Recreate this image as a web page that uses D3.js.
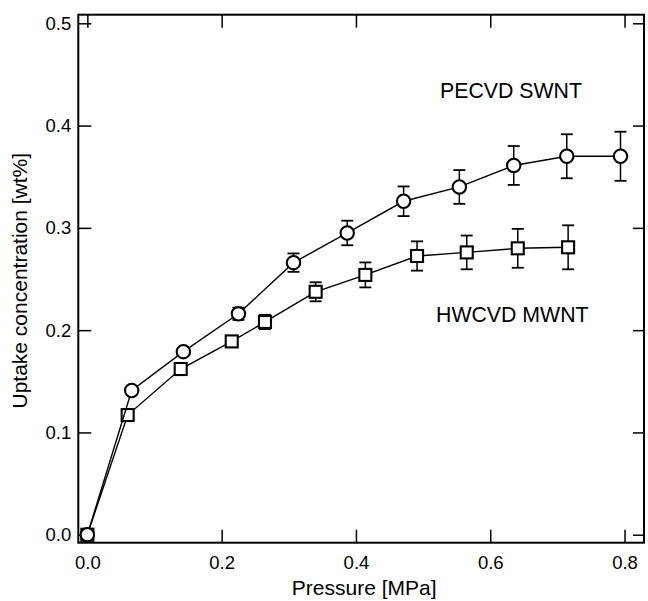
<!DOCTYPE html>
<html>
<head>
<meta charset="utf-8">
<script src="https://cdn.jsdelivr.net/npm/d3@7"></script>
<style>
  html, body { margin: 0; padding: 0; background: #fff; }
  svg { display: block; font-family: "Liberation Sans", Arial, Helvetica, sans-serif; }
</style>
</head>
<body>
<svg id="chart" width="648" height="601"></svg>
<script>
// ---- data ----
const swntPressure = [0, 0.066, 0.143, 0.225, 0.307, 0.387, 0.471, 0.554, 0.635, 0.714, 0.794];
const swntUptake   = [0, 0.141, 0.179, 0.216, 0.266, 0.295, 0.326, 0.340, 0.361, 0.370, 0.370];
const swntError    = [0, 0, 0, 0.006, 0.009, 0.012, 0.0145, 0.0165, 0.019, 0.0215, 0.024];

const mwntPressure = [0, 0.060, 0.139, 0.215, 0.2645, 0.340, 0.414, 0.491, 0.565, 0.641, 0.716];
const mwntUptake   = [0, 0.117, 0.162, 0.189, 0.208, 0.2375, 0.254, 0.2725, 0.276, 0.280, 0.281];
const mwntError    = [0, 0, 0, 0.004, 0.007, 0.0093, 0.0122, 0.0143, 0.0165, 0.019, 0.0215];

const xTicks = [0, 0.2, 0.4, 0.6, 0.8];
const yTicks = [0, 0.1, 0.2, 0.3, 0.4, 0.5];
const seriesNames = ["PECVD SWNT", "HWCVD MWNT"];
const xTitle = "Pressure [MPa]";
const yTitle = "Uptake concentration [wt%]";

// ---- layout ----
const svg = d3.select("#chart");
const L = 78.3, R = 644, T = 14.7, B = 542.7;
const x = d3.scaleLinear().domain([-0.0135, 0.829]).range([L, R]);
const y = d3.scaleLinear().domain([-0.0078, 0.5084]).range([B, T]);
const fmt = d3.format(".1f");
const tickLen = 13;

function styleAxis(g, showText) {
  g.select(".domain").remove();
  g.selectAll(".tick line").attr("stroke", "#000").attr("stroke-width", 1.5);
  g.selectAll(".tick text").attr("fill", "#000").style("font-size", "18.5px");
  if (!showText) g.selectAll(".tick text").remove();
}

svg.append("g").attr("transform", `translate(0,${B})`)
  .call(d3.axisBottom(x).tickValues(xTicks).tickFormat(fmt).tickSize(-tickLen).tickPadding(14))
  .call(g => styleAxis(g, true))
  .selectAll(".tick text").attr("y", 13.5).attr("dy", "0.71em");

svg.append("g").attr("transform", `translate(0,${T})`)
  .call(d3.axisTop(x).tickValues(xTicks).tickSize(-tickLen))
  .call(g => styleAxis(g, false));

svg.append("g").attr("transform", `translate(${L},0)`)
  .call(d3.axisLeft(y).tickValues(yTicks).tickFormat(fmt).tickSize(-tickLen).tickPadding(7))
  .call(g => styleAxis(g, true))
  .selectAll(".tick text").attr("x", -7);

svg.append("g").attr("transform", `translate(${R},0)`)
  .call(d3.axisRight(y).tickValues(yTicks).tickSize(-11))
  .call(g => styleAxis(g, false));

// frame
svg.append("rect").attr("x", L).attr("y", T).attr("width", R - L).attr("height", B - T)
  .attr("fill", "none").attr("stroke", "#000").attr("stroke-width", 2);

// titles
svg.append("text").attr("x", (L + R) / 2 + 3).attr("y", 595)
  .attr("text-anchor", "middle").style("font-size", "21px").attr("fill", "#000").text(xTitle);
svg.append("text").attr("transform", `translate(27,${(T + B) / 2 + 2}) rotate(-90)`)
  .attr("text-anchor", "middle").style("font-size", "21px").attr("fill", "#000").text(yTitle);

// series labels
svg.append("text").attr("x", 440).attr("y", 98).style("font-size", "21.3px").attr("fill", "#000").text(seriesNames[0]);
svg.append("text").attr("x", 436).attr("y", 321.7).style("font-size", "21.3px").attr("fill", "#000").text(seriesNames[1]);

function drawSeries(px, py, err, shape) {
  const data = px.map((p, i) => ({ p, u: py[i], e: err[i] }));
  const g = svg.append("g");
  g.append("path").datum(data)
    .attr("d", d3.line().x(d => x(d.p)).y(d => y(d.u)))
    .attr("fill", "none").attr("stroke", "#000").attr("stroke-width", 1.4);
  const eb = g.selectAll(".eb").data(data.filter(d => d.e > 0)).join("g");
  eb.append("line").attr("x1", d => x(d.p)).attr("x2", d => x(d.p))
    .attr("y1", d => y(d.u - d.e)).attr("y2", d => y(d.u + d.e))
    .attr("stroke", "#000").attr("stroke-width", 1.5);
  [1, -1].forEach(s => {
    eb.append("line").attr("x1", d => x(d.p) - 6).attr("x2", d => x(d.p) + 6)
      .attr("y1", d => y(d.u + s * d.e)).attr("y2", d => y(d.u + s * d.e))
      .attr("stroke", "#000").attr("stroke-width", 1.8);
  });
  if (shape === "circle") {
    g.selectAll(".m").data(data).join("circle")
      .attr("cx", d => x(d.p)).attr("cy", d => y(d.u)).attr("r", 6.7)
      .attr("fill", "#fff").attr("stroke", "#000").attr("stroke-width", 2.1);
  } else {
    g.selectAll(".m").data(data).join("rect")
      .attr("x", d => x(d.p) - 6).attr("y", d => y(d.u) - 6)
      .attr("width", 12).attr("height", 12)
      .attr("fill", "#fff").attr("stroke", "#000").attr("stroke-width", 2.1);
  }
}
drawSeries(mwntPressure, mwntUptake, mwntError, "square");
drawSeries(swntPressure, swntUptake, swntError, "circle");
</script>
</body>
</html>
